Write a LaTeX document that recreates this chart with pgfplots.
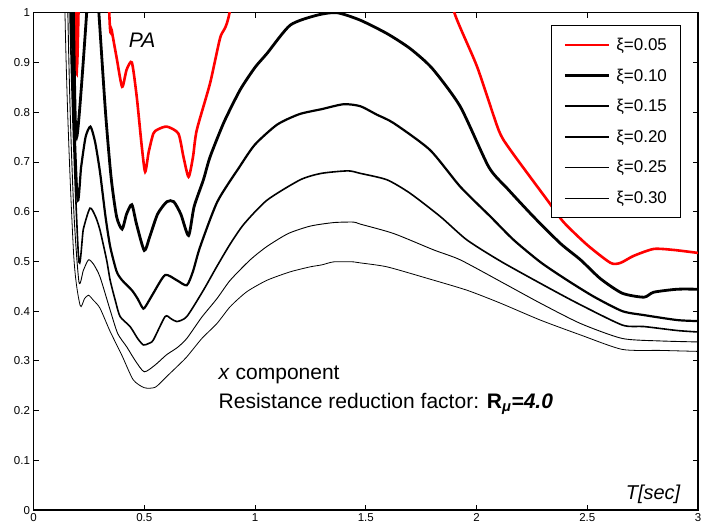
\documentclass[border=0pt]{standalone}
\usepackage{fontspec}
\setmainfont{Liberation Sans}
\setsansfont{Liberation Sans}
\usepackage{pgfplots}
\pgfplotsset{compat=1.18}
\begin{document}
\begin{tikzpicture}
\useasboundingbox (-33.5pt,-17pt) rectangle (679pt,509.7pt);
\begin{axis}[
  at={(0,0)}, anchor=south west,
  scale only axis, width=664pt, height=497pt,
  xmin=0, xmax=3, ymin=0, ymax=1,
  xtick={0,0.5,1,1.5,2,2.5,3},
  ytick={0,0.1,0.2,0.3,0.4,0.5,0.6,0.7,0.8,0.9,1},
  tick align=inside, major tick length=5pt,
  tick style={black, line width=0.8pt},
  axis line style={line width=1.4pt},
  /pgf/number format/assume math mode=true,
  tick label style={font=\fontsize{11.5}{13}\selectfont},
  legend style={at={(0.975,0.975)}, anchor=north east, draw=black, line width=0.9pt,
    font=\fontsize{17}{20}\selectfont, row sep=12.8pt, column sep=4pt,
    inner xsep=12pt, inner ysep=10.5pt,
    cells={anchor=west}},
  legend image code/.code={\draw[#1] (0pt,0pt) -- (44pt,0pt);},
  legend cell align=left,
]
\addplot[red, line width=2.6pt, smooth, tension=0.4] coordinates {
(0.150,2.5) (0.19,1.0) (0.196,0.89) (0.203,1.0) (0.23,1.6) (0.30,1.6) (0.342,1.0) (0.353,0.965) (0.375,0.91) (0.40,0.851) (0.42,0.885) (0.444,0.90) (0.466,0.831) (0.489,0.73) (0.504,0.68) (0.52,0.72) (0.541,0.757) (0.56,0.765) (0.602,0.771) (0.654,0.757) (0.677,0.71) (0.70,0.67) (0.72,0.71) (0.737,0.764) (0.797,0.858) (0.843,0.95) (0.885,1.0) (1.0,1.3) (1.5,1.5) (1.85,1.1) (1.90,1.0) (2.003,0.891) (2.10,0.764) (2.153,0.724) (2.32,0.623) (2.393,0.579) (2.50,0.533) (2.605,0.497) (2.65,0.497) (2.709,0.511) (2.80,0.525) (2.89,0.523) (3.0,0.517)
};
\addlegendentry{ξ=0.05}
\addplot[black, line width=2.8pt, smooth, tension=0.4] coordinates {
(0.13,2.5) (0.18,1.0) (0.195,0.75) (0.24,1.0) (0.265,1.2) (0.295,1.0) (0.325,0.80) (0.35,0.67) (0.375,0.59) (0.40,0.565) (0.42,0.595) (0.444,0.614) (0.465,0.575) (0.50,0.522) (0.525,0.55) (0.56,0.595) (0.602,0.62) (0.633,0.62) (0.665,0.595) (0.70,0.552) (0.725,0.61) (0.767,0.664) (0.797,0.71) (0.86,0.78) (0.933,0.845) (1.0,0.89) (1.054,0.918) (1.159,0.975) (1.28,0.995) (1.37,1.0) (1.475,0.985) (1.596,0.958) (1.70,0.928) (1.80,0.888) (1.927,0.811) (2.055,0.690) (2.138,0.647) (2.257,0.590) (2.379,0.536) (2.47,0.503) (2.56,0.465) (2.658,0.436) (2.756,0.428) (2.80,0.438) (2.906,0.444) (3.0,0.444)
};
\addlegendentry{ξ=0.10}
\addplot[black, line width=2.2pt, smooth, tension=0.4] coordinates {
(0.12,2.5) (0.172,1.0) (0.198,0.63) (0.215,0.69) (0.235,0.75) (0.257,0.771) (0.278,0.74) (0.30,0.68) (0.325,0.59) (0.346,0.53) (0.375,0.48) (0.40,0.462) (0.444,0.442) (0.47,0.425) (0.496,0.405) (0.52,0.42) (0.541,0.436) (0.594,0.4725) (0.647,0.462) (0.692,0.452) (0.72,0.48) (0.752,0.529) (0.83,0.62) (0.93,0.69) (1.0,0.735) (1.1,0.775) (1.2,0.796) (1.3,0.806) (1.4,0.816) (1.475,0.812) (1.55,0.795) (1.626,0.778) (1.79,0.724) (1.927,0.650) (2.063,0.590) (2.168,0.543) (2.29,0.498) (2.41,0.462) (2.53,0.429) (2.658,0.40) (2.756,0.392) (2.906,0.382) (3.0,0.380)
};
\addlegendentry{ξ=0.15}
\addplot[black, line width=1.6pt, smooth, tension=0.4] coordinates {
(0.11,2.5) (0.165,1.0) (0.203,0.51) (0.225,0.565) (0.255,0.607) (0.28,0.59) (0.30,0.563) (0.33,0.503) (0.346,0.462) (0.37,0.42) (0.391,0.389) (0.436,0.369) (0.47,0.345) (0.496,0.332) (0.52,0.335) (0.541,0.342) (0.594,0.389) (0.62,0.385) (0.647,0.379) (0.692,0.389) (0.767,0.442) (0.828,0.49) (0.888,0.535) (0.95,0.575) (1.054,0.623) (1.204,0.664) (1.3,0.677) (1.42,0.682) (1.475,0.677) (1.596,0.664) (1.70,0.637) (1.837,0.59) (1.957,0.543) (2.11,0.50) (2.304,0.452) (2.455,0.416) (2.658,0.372) (2.756,0.369) (2.906,0.361) (3.0,0.358)
};
\addlegendentry{ξ=0.20}
\addplot[black, line width=0.9pt, smooth, tension=0.4] coordinates {
(0.10,2.5) (0.155,1.0) (0.18,0.62) (0.205,0.459) (0.225,0.482) (0.248,0.503) (0.27,0.495) (0.30,0.469) (0.346,0.402) (0.38,0.355) (0.421,0.328) (0.46,0.30) (0.50,0.278) (0.55,0.292) (0.60,0.312) (0.65,0.327) (0.692,0.345) (0.76,0.388) (0.828,0.425) (0.888,0.462) (0.978,0.503) (1.054,0.53) (1.15,0.556) (1.25,0.571) (1.355,0.578) (1.445,0.579) (1.475,0.575) (1.626,0.556) (1.807,0.523) (1.927,0.503) (2.123,0.456) (2.288,0.416) (2.47,0.375) (2.658,0.345) (2.83,0.340) (3.0,0.338)
};
\addlegendentry{ξ=0.25}
\addplot[black, line width=0.8pt, smooth, tension=0.4] coordinates {
(0.09,2.5) (0.142,1.0) (0.18,0.523) (0.21,0.412) (0.23,0.425) (0.248,0.432) (0.27,0.422) (0.30,0.406) (0.345,0.36) (0.40,0.31) (0.45,0.262) (0.50,0.246) (0.55,0.247) (0.60,0.268) (0.647,0.288) (0.692,0.308) (0.76,0.345) (0.828,0.375) (0.888,0.409) (0.963,0.439) (1.054,0.462) (1.159,0.479) (1.249,0.489) (1.302,0.493) (1.355,0.499) (1.445,0.499) (1.475,0.497) (1.596,0.489) (1.777,0.466) (1.957,0.442) (2.108,0.416) (2.288,0.382) (2.47,0.352) (2.658,0.323) (2.83,0.321) (3.0,0.319)
};
\addlegendentry{ξ=0.30}
\node[font=\fontsize{21}{25}\selectfont\itshape] at (axis cs:0.49,0.945) {PA};
\node[anchor=base west, inner sep=0pt, font=\fontsize{21}{25}\selectfont] at (axis cs:0.835,0.263) {\textit{x} component};
\node[anchor=base west, inner sep=0pt, font=\fontsize{21}{25}\selectfont] at (axis cs:0.835,0.2045) {Resistance reduction factor: \textbf{R}\textsubscript{\textbf{\textit{μ}}}\textbf{\textit{=4.0}}};
\node[anchor=base east, inner sep=0pt, font=\fontsize{20}{24}\selectfont\itshape] at (axis cs:2.921,0.0215) {T[sec]};
\end{axis}
\end{tikzpicture}
\end{document}
